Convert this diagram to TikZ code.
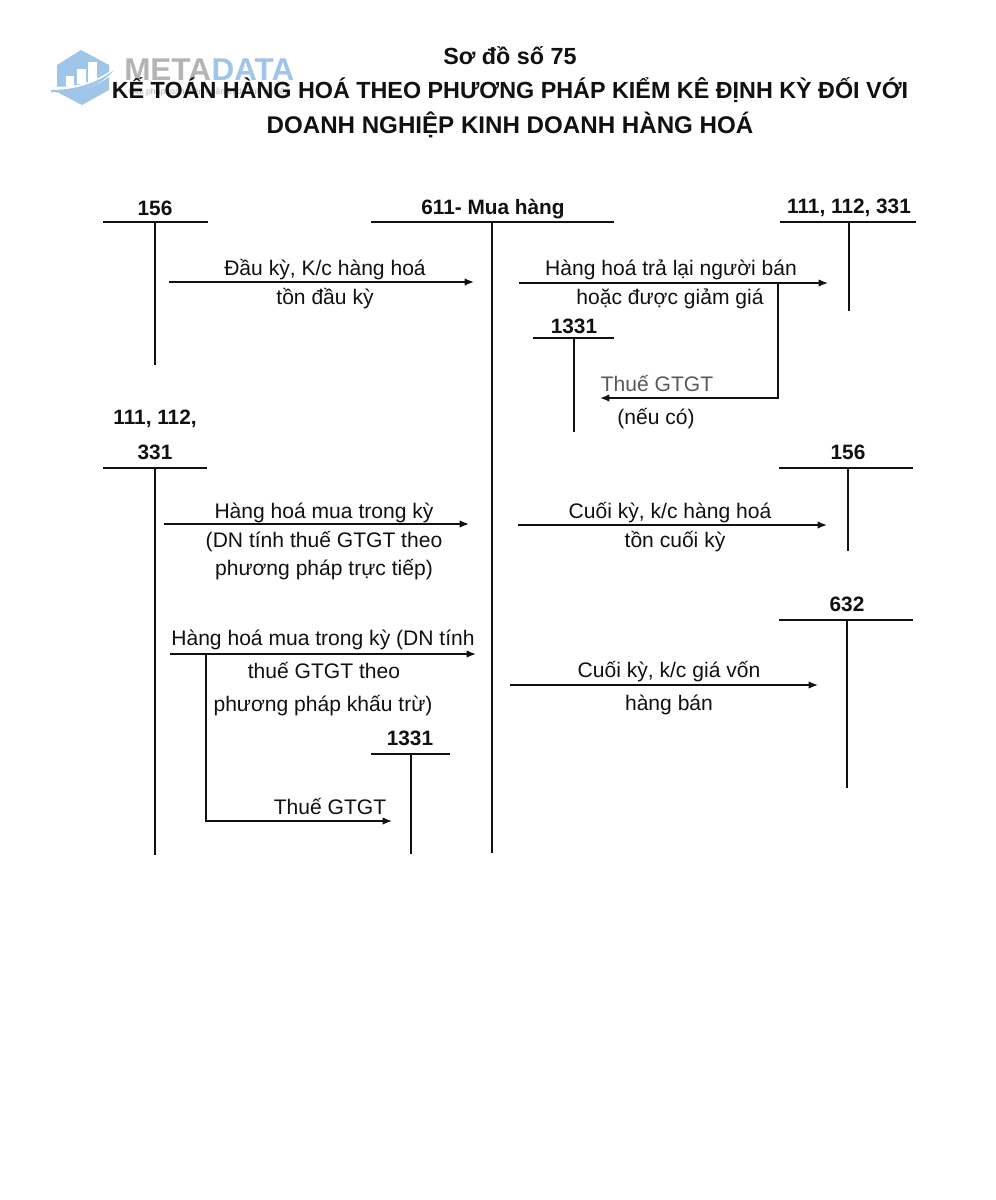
\documentclass[tikz,border=0pt]{standalone}
\usepackage{fontspec}
\setmainfont{Liberation Sans}
\usepackage{tikz}
\usetikzlibrary{arrows.meta}
\definecolor{logoblue}{HTML}{9FC5E8}
\definecolor{logogray}{HTML}{B4B4B4}
\definecolor{inkblack}{HTML}{111111}

\begin{document}
\begin{tikzpicture}[x=0.75pt,y=-0.75pt,every node/.style={text=inkblack}]
\tikzset{titletext/.style = {font=\bfseries\fontsize{17.5}{20}\selectfont,inner sep=0pt}}
\tikzset{acct/.style = {font=\bfseries\fontsize{15.6}{16}\selectfont,inner sep=0pt}}
\tikzset{note/.style = {font=\fontsize{15.8}{16}\selectfont,inner sep=0pt,yshift=-1.2pt}}
\tikzset{rule/.style = {draw=inkblack,line width=1.2pt}}
\tikzset{stem/.style = {draw=inkblack,line width=1.1pt}}
\tikzset{edge/.style = {draw=inkblack,line width=1pt,-{Latex[length=7pt,width=5.5pt]}}}
\useasboundingbox (0,0) rectangle (996,1200);
\fill[white] (0,0) rectangle (996,1200);
% logo
\fill[logoblue] (81,50) -- (109,65) -- (109,90) -- (82,105) -- (57,92) -- (57,65) -- cycle;
\fill[white] (66,76) rectangle (74,86);
\fill[white] (77,69) rectangle (86,84);
\fill[white] (88,62) rectangle (97,82);
\fill[white] (50,86) .. controls (75,89) and (98,81) .. (114,68) -- (114,73) .. controls (98,87) and (75,93) .. (50,92) -- cycle;
\fill[logoblue] (51,90) .. controls (75,90) and (98,83) .. (114,70) .. controls (102,85) and (78,94) .. (51,92) -- cycle;
\node[font=\bfseries\fontsize{23.6}{24}\selectfont,inner sep=0pt,anchor=base west,text=logogray] (logoa) at (124,80) {META};
\node[font=\bfseries\fontsize{23.6}{24}\selectfont,inner sep=0pt,anchor=base west,text=logoblue] (logob) at (logoa.base east) {DATA};
\node[font=\fontsize{6.5}{8}\selectfont,inner sep=0pt,text=logogray] (logoc) at (209,92) {Giải pháp toàn diện quản trị doanh nghiệp};
% title
\node[titletext] (t1) at (510,56) {Sơ đồ số 75};
\node[titletext] (t2) at (510,90) {KẾ TOÁN HÀNG HOÁ THEO PHƯƠNG PHÁP KIỂM KÊ ĐỊNH KỲ ĐỐI VỚI};
\node[titletext,font=\bfseries\fontsize{18.1}{20}\selectfont] (t3) at (510,125) {DOANH NGHIỆP KINH DOANH HÀNG HOÁ};
% accounts
\node[acct] (a156) at (155,208) {156};
\node[acct] (a611) at (493,209) {611- Mua hàng};
\node[acct] (a111) at (849,208) {111, 112, 331};
\node[acct] (a1331) at (574,326) {1331};
\node[acct] (b111) at (155,419) {111, 112,};
\node[acct] (b331) at (155,452) {331};
\node[acct] (b156) at (848,452) {156};
\node[acct] (b632) at (847,604) {632};
\node[acct] (b1331) at (410,738) {1331};
% bars and stems
\coordinate (p1) at (103,222); \coordinate (p2) at (208,222); \coordinate (p3) at (155,222); \coordinate (p4) at (155,365);
\coordinate (q1) at (371,222); \coordinate (q2) at (614,222); \coordinate (q3) at (492,222); \coordinate (q4) at (492,853);
\coordinate (r1) at (780,222); \coordinate (r2) at (916,222); \coordinate (r3) at (849,222); \coordinate (r4) at (849,311);
\coordinate (s1) at (533,338); \coordinate (s2) at (614,338); \coordinate (s3) at (574,338); \coordinate (s4) at (574,432);
\coordinate (u1) at (103,468); \coordinate (u2) at (207,468); \coordinate (u3) at (155,468); \coordinate (u4) at (155,855);
\coordinate (v1) at (779,468); \coordinate (v2) at (913,468); \coordinate (v3) at (848,468); \coordinate (v4) at (848,551);
\coordinate (w1) at (779,620); \coordinate (w2) at (913,620); \coordinate (w3) at (847,620); \coordinate (w4) at (847,788);
\coordinate (x1) at (371,754); \coordinate (x2) at (450,754); \coordinate (x3) at (411,754); \coordinate (x4) at (411,854);
\foreach \k in {p,q,r,s,u,v,w,x} {
  \draw[rule] (\k1) to (\k2);
  \draw[stem] (\k3) to (\k4);
}
% arrows
\coordinate (e1a) at (169,282); \coordinate (e1b) at (474,282);
\coordinate (e2a) at (519,283); \coordinate (e2b) at (828,283);
\coordinate (e3a) at (778,283); \coordinate (e3c) at (778,398); \coordinate (e3b) at (600,398);
\coordinate (e4a) at (164,524); \coordinate (e4b) at (469,524);
\coordinate (e5a) at (518,525); \coordinate (e5b) at (827,525);
\coordinate (e6a) at (170,654); \coordinate (e6b) at (476,654);
\coordinate (e7a) at (206,654); \coordinate (e7c) at (206,821); \coordinate (e7b) at (392,821);
\coordinate (e8a) at (510,685); \coordinate (e8b) at (818,685);
\draw[edge] (e1a) to (e1b);
\draw[edge] (e2a) to (e2b);
\draw[edge] (e3a) -- (e3c) -- (e3b);
\draw[edge] (e4a) to (e4b);
\draw[edge] (e5a) to (e5b);
\draw[edge] (e6a) to (e6b);
\draw[edge] (e7a) -- (e7c) -- (e7b);
\draw[edge] (e8a) to (e8b);
% labels
\node[note] (n1) at (325,268) {Đầu kỳ, K/c hàng hoá};
\node[note] (n2) at (325,297) {tồn đầu kỳ};
\node[note] (n3) at (671,268) {Hàng hoá trả lại người bán};
\node[note] (n4) at (670,297) {hoặc được giảm giá};
\node[note,text=black!65] (n5) at (657,382) {Thuế GTGT};
\node[note] (n6) at (656,417) {(nếu có)};
\node[note] (n7) at (324,511) {Hàng hoá mua trong kỳ};
\node[note] (n8) at (324,540) {(DN tính thuế GTGT theo};
\node[note] (n9) at (324,568) {phương pháp trực tiếp)};
\node[note] (n10) at (670,511) {Cuối kỳ, k/c hàng hoá};
\node[note] (n11) at (675,540) {tồn cuối kỳ};
\node[note] (n12) at (323,638) {Hàng hoá mua trong kỳ (DN tính};
\node[note] (n13) at (324,669) {thuế GTGT theo};
\node[note] (n14) at (323,704) {phương pháp khấu trừ)};
\node[note] (n15) at (330,805) {Thuế GTGT};
\node[note] (n16) at (669,670) {Cuối kỳ, k/c giá vốn};
\node[note] (n17) at (669,703) {hàng bán};
\end{tikzpicture}
\end{document}
